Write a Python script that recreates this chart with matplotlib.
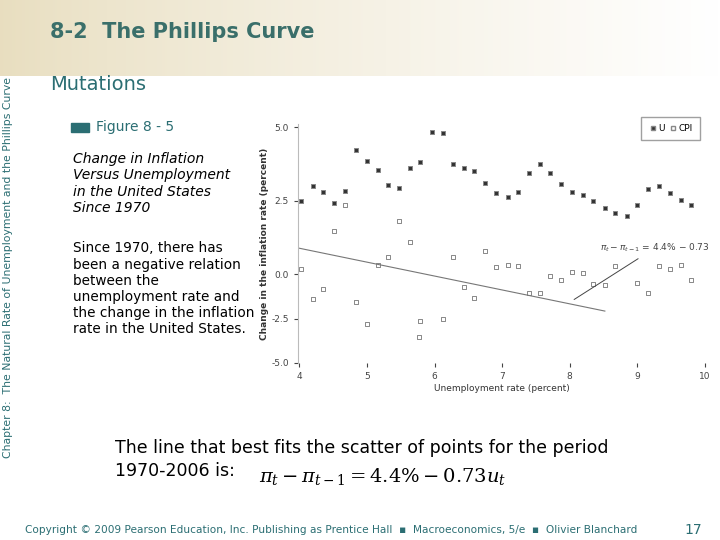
import matplotlib
matplotlib.use("Agg")
import matplotlib.pyplot as plt
import numpy as np
from matplotlib.patches import Rectangle
from matplotlib.lines import Line2D

u_x = [4.02,4.20,4.35,4.51,4.68,4.83,5.00,5.16,5.31,5.48,5.64,5.79,5.96,6.12,6.27,6.43,6.59,6.75,6.91,7.08,7.24,7.39,7.56,7.71,7.87,8.03,8.19,8.35,8.52,8.67,8.85,9.00,9.16,9.32,9.48,9.64,9.80]
u_y = [2.5,2.99,2.80,2.44,2.83,4.23,3.85,3.54,3.04,2.94,3.60,3.81,4.84,4.80,3.75,3.60,3.51,3.11,2.75,2.64,2.81,3.44,3.74,3.45,3.06,2.80,2.71,2.49,2.24,2.10,1.99,2.37,2.90,3.01,2.76,2.54,2.35]
cpi_x = [4.02,4.20,4.35,4.51,4.68,4.83,5.00,5.16,5.31,5.48,5.64,5.79,5.77,6.12,6.27,6.43,6.59,6.75,6.91,7.08,7.24,7.39,7.56,7.71,7.87,8.03,8.19,8.35,8.52,8.67,9.00,9.16,9.32,9.48,9.64,9.80]
cpi_y = [0.2,-1.39,-0.83,1.47,2.37,-1.57,-2.81,0.32,0.58,1.8,1.11,-2.65,-3.56,-2.54,0.58,-0.70,-1.33,0.80,0.25,0.32,0.29,-1.02,-1.02,-0.09,-0.33,0.09,0.04,-0.52,-0.61,0.30,-0.48,-1.06,0.30,0.18,0.33,-0.30]
fit_x = [4.0, 8.52]
fit_y = [0.89, -2.07]
yticks = [5.0, 2.5, 0.0, -2.5, -5.0]
xticks = [4, 5, 6, 7, 8, 9, 10]

fig = plt.figure(figsize=(7.2, 5.4), dpi=100)
fig.patch.set_facecolor("white")
bg = fig.add_axes([0, 0, 1, 1], zorder=-10)
bg.axis("off")
grad = np.ones((60, 200, 3))
t = np.linspace(0, 1, 200)
for i, c in enumerate([0.91, 0.87, 0.75]):
    grad[:, :, i] = c + (1 - c) * t**0.8
bg.imshow(grad, extent=[0, 1, 0.86, 1], aspect="auto")
bg.set_xlim(0, 1); bg.set_ylim(0, 1)

teal = "#2b6e73"
fig.text(0.069, 0.94, "8-2  The Phillips Curve", color="#3a6f6a", fontsize=15, fontweight="bold", va="center")
fig.text(0.069, 0.843, "Mutations", color=teal, fontsize=14, va="center")
fig.text(0.011, 0.505, "Chapter 8:  The Natural Rate of Unemployment and the Phillips Curve",
         rotation=90, color=teal, fontsize=7.8, va="center", ha="center")
fig.add_artist(Rectangle((0.099, 0.755), 0.024, 0.017, transform=fig.transFigure, color="#2b6e73"))
fig.text(0.134, 0.764, "Figure 8 - 5", color=teal, fontsize=10, va="center")
fig.text(0.101, 0.66, "Change in Inflation\nVersus Unemployment\nin the United States\nSince 1970",
         fontsize=10, style="italic", va="center", linespacing=1.2)
fig.text(0.101, 0.465, "Since 1970, there has\nbeen a negative relation\nbetween the\nunemployment rate and\nthe change in the inflation\nrate in the United States.",
         fontsize=9.8, va="center", linespacing=1.2)
fig.text(0.16, 0.17, "The line that best fits the scatter of points for the period",
         fontsize=12.5, va="center")
fig.text(0.16, 0.127, "1970-2006 is:", fontsize=12.5, va="center")
fig.text(0.36, 0.118, r"$\pi_t - \pi_{t-1} = 4.4\% - 0.73u_t$", fontsize=14, va="center",
         math_fontfamily="dejavuserif")
fig.text(0.035, 0.019, "Copyright © 2009 Pearson Education, Inc. Publishing as Prentice Hall  \u25aa  Macroeconomics, 5/e  \u25aa  Olivier Blanchard",
         fontsize=7.6, color=teal, va="center")
fig.text(0.975, 0.019, "17", fontsize=10, color=teal, va="center", ha="right")

ax = fig.add_axes([0.414, 0.328, 0.565, 0.442])
fwd = lambda y: np.where(y >= 0, y, y * 0.6)
inv = lambda y: np.where(y >= 0, y, y / 0.6)
ax.set_yscale("function", functions=(fwd, inv))
ax.set_xlim(3.98, 10)
ax.set_ylim(-5, 5.1)
ax.plot(fit_x, fit_y, color="#777777", lw=0.8)
ax.scatter(cpi_x, cpi_y, marker="s", s=12, facecolors="white", edgecolors="#888888", lw=0.7)
ax.scatter(u_x, u_y, marker="s", s=12, facecolors="#333333", edgecolors="#888888", lw=0.7)
ax.annotate(r"$\pi_t - \pi_{t-1}$ = 4.4% $-$ 0.73", xy=(8.03, -1.5), xytext=(8.45, 0.8),
            fontsize=6.5, color="#444444", arrowprops=dict(arrowstyle="-", color="#444444", lw=0.7))
for s in ["top", "right", "bottom"]:
    ax.spines[s].set_visible(False)
ax.spines["left"].set_color("#bbbbbb")
ax.set_yticks(yticks)
ax.set_yticklabels([f"{v:.1f}" for v in yticks])
ax.set_xticks(xticks)
ax.tick_params(labelsize=6.5, colors="#444444", length=3)
ax.set_xlabel("Unemployment rate (percent)", fontsize=6.5, color="#333333", labelpad=2)
ax.set_ylabel("Change in the inflation rate (percent)", fontsize=6.5, color="#333333", fontweight="bold", labelpad=2)
handles = [Line2D([], [], marker="s", ls="", markerfacecolor="#333333", markeredgecolor="#888888", markersize=3.5),
           Line2D([], [], marker="s", ls="", markerfacecolor="white", markeredgecolor="#888888", markersize=3.5)]
leg = ax.legend(handles, ["U", "CPI"], loc="upper right", fontsize=6.5, frameon=True, ncol=2,
                handletextpad=0.1, columnspacing=0.5, handlelength=1, fancybox=False,
                borderpad=0.8, bbox_to_anchor=(1.0, 1.05))
leg.get_frame().set_edgecolor("#888888")
fig.savefig("out.png", dpi=100)
